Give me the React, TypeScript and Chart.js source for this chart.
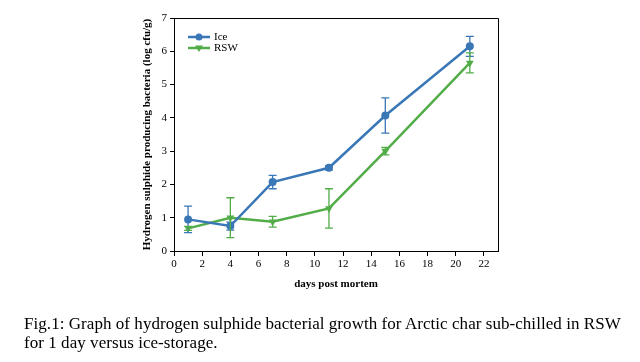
import React, { useEffect, useRef } from "react";
import { Chart, registerables } from "chart.js";

Chart.register(...registerables);

const days = [1, 4, 7, 11, 15, 21];
const iceValues = [0.95, 0.75, 2.07, 2.5, 4.07, 6.15];
const iceErrors = [0.4, 0.12, 0.2, 0.06, 0.53, 0.3];
const rswValues = [0.68, 1.0, 0.88, 1.28, 3.0, 5.65];
const rswErrors = [0.06, 0.6, 0.16, 0.59, 0.11, 0.3];
const seriesNames = ["Ice", "RSW"];
const xTitle = "days post mortem";
const yTitle = "Hydrogen sulphide producing bacteria (log cfu/g)";
const captionLines = [
  "Fig.1: Graph of hydrogen sulphide bacterial growth for Arctic char sub-chilled in RSW",
  "for 1 day versus ice-storage.",
];

const BLUE = "#3a77b6";
const GREEN = "#52ad48";
const FONT = "'Liberation Serif', 'Times New Roman', serif";

const errorBarPlugin = {
  id: "errorBars",
  afterDatasetsDraw(chart: any) {
    const { ctx, scales } = chart;
    const x = scales.x;
    const y = scales.y;
    chart.data.datasets.forEach((ds: any) => {
      const errs: number[] = ds.errors || [];
      ctx.save();
      ctx.strokeStyle = ds.borderColor;
      ctx.lineWidth = 1.3;
      ds.data.forEach((p: any, i: number) => {
        const e = errs[i];
        if (!e) return;
        const px = x.getPixelForValue(p.x);
        const yt = y.getPixelForValue(p.y + e);
        const yb = y.getPixelForValue(p.y - e);
        ctx.beginPath();
        ctx.moveTo(px, yt);
        ctx.lineTo(px, yb);
        ctx.moveTo(px - 4, yt);
        ctx.lineTo(px + 4, yt);
        ctx.moveTo(px - 4, yb);
        ctx.lineTo(px + 4, yb);
        ctx.stroke();
      });
      ctx.restore();
    });
  },
};

const framePlugin = {
  id: "frame",
  afterDraw(chart: any) {
    const { ctx, chartArea } = chart;
    ctx.save();
    ctx.strokeStyle = "#000";
    ctx.lineWidth = 1;
    ctx.beginPath();
    ctx.moveTo(chartArea.left, chartArea.top + 0.5);
    ctx.lineTo(chartArea.right + 0.5, chartArea.top + 0.5);
    ctx.lineTo(chartArea.right + 0.5, chartArea.bottom);
    ctx.stroke();
    ctx.restore();
  },
};

const legendPlugin = {
  id: "customLegend",
  afterDraw(chart: any) {
    const { ctx, chartArea } = chart;
    ctx.save();
    chart.data.datasets.forEach((ds: any, i: number) => {
      const lx = chartArea.left + 14;
      const ly = chartArea.top + 19 + i * 11;
      ctx.strokeStyle = ds.borderColor;
      ctx.lineWidth = 2.5;
      ctx.beginPath();
      ctx.moveTo(lx, ly);
      ctx.lineTo(lx + 22, ly);
      ctx.stroke();
      ctx.fillStyle = ds.borderColor;
      const cx = lx + 11;
      ctx.beginPath();
      if (ds.pointStyle === "circle") {
        ctx.arc(cx, ly, 3.5, 0, Math.PI * 2);
      } else {
        ctx.moveTo(cx - 4, ly - 2.5);
        ctx.lineTo(cx + 4, ly - 2.5);
        ctx.lineTo(cx, ly + 4);
        ctx.closePath();
      }
      ctx.fill();
      ctx.fillStyle = "#000";
      ctx.font = `11px ${FONT}`;
      ctx.textBaseline = "middle";
      ctx.textAlign = "left";
      ctx.fillText(ds.label, lx + 26, ly);
    });
    ctx.restore();
  },
};

export default function App() {
  const ref = useRef<HTMLCanvasElement | null>(null);

  useEffect(() => {
    if (!ref.current) return;
    const chart = new Chart(ref.current, {
      type: "line",
      data: {
        datasets: [
          {
            label: seriesNames[0],
            data: days.map((d, i) => ({ x: d, y: iceValues[i] })),
            errors: iceErrors,
            borderColor: BLUE,
            backgroundColor: BLUE,
            borderWidth: 2.5,
            pointStyle: "circle",
            pointRadius: 4,
            pointBorderWidth: 0,
            tension: 0,
          } as any,
          {
            label: seriesNames[1],
            data: days.map((d, i) => ({ x: d, y: rswValues[i] })),
            errors: rswErrors,
            borderColor: GREEN,
            backgroundColor: GREEN,
            borderWidth: 2.5,
            pointStyle: "triangle",
            rotation: 180,
            pointRadius: 4.5,
            pointBorderWidth: 0,
            tension: 0,
          } as any,
        ],
      },
      options: {
        animation: false,
        responsive: false,
        layout: { padding: { left: 141, top: 18, right: 142, bottom: 71 } },
        plugins: {
          legend: { display: false },
          tooltip: { enabled: false },
        },
        scales: {
          x: {
            type: "linear",
            min: 0,
            max: 23,
            afterFit: (s: any) => {
              s.height = 40;
            },
            ticks: {
              stepSize: 2,
              includeBounds: false,
              color: "#000",
              padding: 2,
              maxRotation: 0,
              font: { family: FONT, size: 11 },
            },
            grid: {
              display: true,
              drawOnChartArea: false,
              drawTicks: true,
              tickLength: 5,
              color: "#000",
            },
            border: { display: true, color: "#000", width: 1 },
            title: {
              display: true,
              text: xTitle,
              color: "#000",
              padding: 0,
              font: { family: FONT, size: 11, weight: "bold" },
            },
          },
          y: {
            type: "linear",
            min: 0,
            max: 7,
            afterFit: (s: any) => {
              s.width = 33;
            },
            ticks: {
              stepSize: 1,
              color: "#000",
              padding: 3,
              font: { family: FONT, size: 11 },
            },
            grid: {
              display: true,
              drawOnChartArea: false,
              drawTicks: true,
              tickLength: 4,
              color: "#000",
            },
            border: { display: true, color: "#000", width: 1 },
            title: {
              display: true,
              text: yTitle,
              color: "#000",
              padding: 0,
              font: { family: FONT, size: 11, weight: "bold" },
            },
          },
        },
      } as any,
      plugins: [errorBarPlugin, framePlugin, legendPlugin],
    });
    return () => chart.destroy();
  }, []);

  return (
    <div style={{ position: "absolute", left: 0, top: 0, width: 640, height: 362, background: "#fff" }}>
      <canvas ref={ref} width={640} height={362} style={{ position: "absolute", left: 0, top: 0 }} />
      <div
        style={{
          position: "absolute",
          left: 24,
          top: 314,
          whiteSpace: "nowrap",
          fontFamily: FONT,
          fontSize: 17,
          letterSpacing: "0.05px",
          lineHeight: "19px",
          color: "#000",
        }}
      >
        {captionLines.map((l, i) => (
          <div key={i}>{l}</div>
        ))}
      </div>
    </div>
  );
}
